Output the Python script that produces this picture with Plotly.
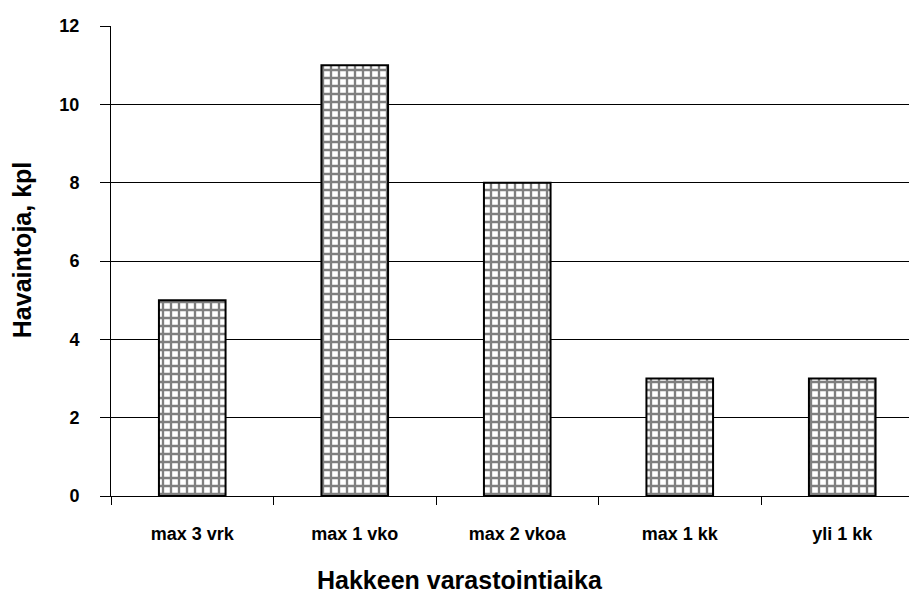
import plotly.graph_objects as go

categories = ["max 3 vrk", "max 1 vko", "max 2 vkoa", "max 1 kk", "yli 1 kk"]
values = [5, 11, 8, 3, 3]
y_ticks = [0, 2, 4, 6, 8, 10, 12]
x_title = "Hakkeen varastointiaika"
y_title = "Havaintoja, kpl"

fig = go.Figure()
fig.add_trace(go.Bar(
    x=categories, y=values,
    width=0.41,
    marker=dict(
        color="white",
        line=dict(color="black", width=2),
        pattern=dict(shape="+", fgcolor="black", bgcolor="white", size=8, solidity=0.5, fillmode="overlay"),
    ),
))

font_family = "Liberation Sans, Arial, sans-serif"
fig.update_layout(
    width=917, height=599,
    margin=dict(l=103, r=8, t=18, b=111),
    plot_bgcolor="white", paper_bgcolor="white",
    showlegend=False,
    font=dict(family=font_family, color="black"),
    annotations=[
        dict(text="<b>" + x_title + "</b>", xref="paper", yref="paper", x=0.433, y=0,
             xanchor="center", yanchor="middle", yshift=-84, showarrow=False,
             font=dict(size=25, family=font_family, color="black")),
        dict(text="<b>" + y_title + "</b>", xref="paper", yref="paper", x=0, y=0.523,
             xanchor="center", yanchor="middle", xshift=-89, textangle=-90, showarrow=False,
             font=dict(size=25, family=font_family, color="black")),
    ],
)
fig.update_xaxes(
    range=[-0.5, 4.46],
    automargin=False,
    showline=True, linecolor="black", linewidth=1,
    ticks="outside", tickson="boundaries", ticklen=8, tickcolor="black",
    ticklabelstandoff=21,
    tickfont=dict(size=18, family=font_family, weight="bold"),
    showgrid=False,
)
fig.update_yaxes(
    range=[0, 12], tickvals=y_ticks,
    automargin=False,
    showline=True, linecolor="black", linewidth=1,
    ticks="outside", ticklen=10, tickcolor="black",
    ticklabelstandoff=17,
    tickfont=dict(size=18, family=font_family, weight="bold"),
    showgrid=True, gridcolor="black", gridwidth=1,
    zeroline=False,
)

fig.write_html("out.html")
